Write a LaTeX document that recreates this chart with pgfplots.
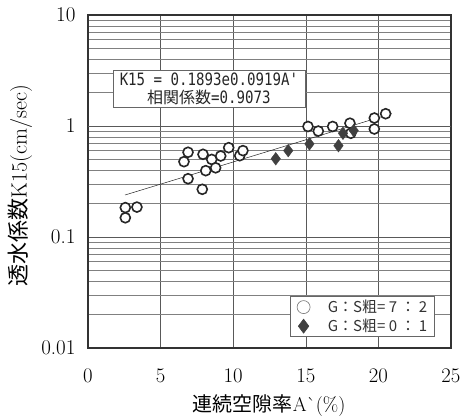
\documentclass[border=0pt]{standalone}
\usepackage{fontspec}
\usepackage{graphicx}
\usepackage{pgfplots}
\pgfplotsset{compat=1.18}
\newfontfamily\cjk{Noto Sans CJK JP}
\newfontfamily\mono{DejaVu Sans Mono}

\begin{document}
\begin{tikzpicture}
\useasboundingbox (-88pt,-69pt) rectangle (374pt,348pt);
\begin{axis}[
  scale only axis, width=363pt, height=333pt,
  xmin=0, xmax=25, ymode=log, ymin=0.01, ymax=10,
  xtick={0,5,10,15,20,25},
  ytick={0.01,0.1,1,10},
  yticklabels={0.01,0.1,1,10},
  grid=both,
  major tick length=0pt, minor tick length=0pt,
  axis line style={line width=1.6pt, black!80},
  major grid style={line width=0.6pt, black!65},
  minor grid style={line width=0.5pt, black!50},
  extra y ticks={1}, extra y tick labels={},
  extra y tick style={grid style={line width=1.8pt, black!80}},
  ticklabel style={font=\fontsize{21}{25}\selectfont, text=black},
  yticklabel style={xshift=-9pt},
  xticklabel style={yshift=-18pt},
  xlabel={{\cjk 連続空隙率}A\textasciigrave(\%)},
  x label style={at={(axis description cs:0.499,-0.174)}, anchor=center, font=\fontsize{20}{24}\selectfont, text=black},
  ylabel={{\cjk 透水係数}K15(cm/sec)},
  y label style={at={(axis description cs:-0.187,0.488)}, anchor=center, font=\fontsize{22}{26}\selectfont, text=black},
  legend style={at={(rel axis cs:0.956,0.033)}, anchor=south east, draw=black!60, line width=0.6pt,
    font=\cjk\fontsize{15}{18}\selectfont, text=black!80, inner xsep=6pt, inner ysep=2pt,
    nodes={inner sep=1.5pt}, row sep=2pt,
    /tikz/every odd column/.append style={column sep=16pt}},
  legend cell align=left,
]
\addplot[black!85, line width=0.5pt, forget plot] coordinates {(2.55,0.239) (20.9,1.292)};

\addplot[only marks, mark=*, mark size=5pt, mark options={draw=black!85, fill=white, line width=1.6pt},
  legend image code/.code={\draw[black!55, line width=0.6pt, fill=white] (0.3cm,0cm) circle (6.5pt);}]
coordinates {
(2.57,0.184) (3.37,0.186) (2.57,0.149)
(6.89,0.58) (6.61,0.477) (6.89,0.335) (7.92,0.556) (7.87,0.269)
(8.11,0.396) (8.52,0.50) (8.79,0.42) (9.14,0.537) (9.69,0.638)
(10.45,0.54) (10.67,0.60)
(15.15,0.99) (15.86,0.90) (16.85,0.99) (18.04,1.06) (18.1,0.86)
(19.72,1.18) (19.72,0.94) (20.5,1.29)
};
\addlegendentry{G：S粗= 7 ： 2}

\addplot[only marks, mark=diamond*, mark size=6.3pt, mark options={draw=black!75, fill=black!75, line width=0.4pt},
  legend image code/.code={\draw[mark=diamond*, mark size=7pt, mark options={draw=black!75, fill=black!75}] plot coordinates {(0.3cm,0cm)};}]
coordinates {
(12.93,0.507) (13.79,0.60) (15.25,0.69) (17.25,0.665) (17.56,0.86) (18.3,0.91)
};
\addlegendentry{G：S粗= 0 ： 1}

\node[draw=black!60, fill=white, line width=0.6pt, minimum width=192pt, minimum height=37pt,
  inner sep=0pt, align=center, text=black!85, font=\fontsize{17}{18}\selectfont] at (axis cs:8.33,2.18)
  {{\mono\scalebox{0.83}[1]{K15 = 0.1893e0.0919A\textquotesingle}}\\
   {\cjk\fontsize{16}{18}\selectfont 相関係数}{\mono\scalebox{0.83}[1]{=0.9073}}};
\end{axis}
\end{tikzpicture}
\end{document}
